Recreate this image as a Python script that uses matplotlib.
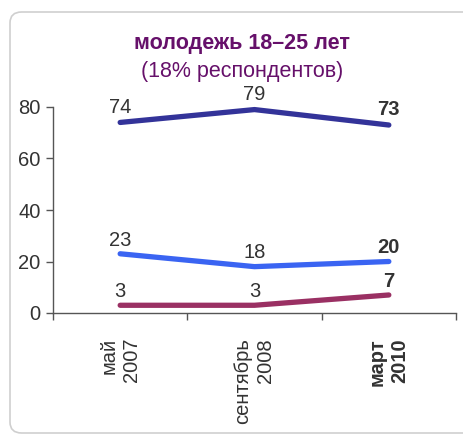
import matplotlib
matplotlib.use("Agg")
import matplotlib.pyplot as plt
from matplotlib.patches import FancyBboxPatch

plt.rcParams['font.family'] = ['Liberation Sans', 'DejaVu Sans']

categories = ["май\n2007", "сентябрь\n2008", "март\n2010"]
series_dark = [74, 79, 73]
series_blue = [23, 18, 20]
series_maroon = [3, 3, 7]
yticks = [0, 20, 40, 60, 80]
title1 = "молодежь 18–25 лет"
title2 = "(18% респондентов)"

colors = {"dark": "#333399", "blue": "#3a64f2", "maroon": "#9a3063"}
text_col = "#333333"

W, H = 463, 436
fig = plt.figure(figsize=(W / 100, H / 100), dpi=100)

# rounded frame
box = FancyBboxPatch((10 / W, 1 - 433 / H), 470 / W, (433 - 12) / H,
                     boxstyle="round,pad=0,rounding_size=0.025",
                     transform=fig.transFigure, facecolor="white",
                     edgecolor="#cfcfcf", linewidth=1.2, zorder=-10)
fig.add_artist(box)

ax = fig.add_axes([53 / W, 1 - 313 / H, (456 - 53) / W, (313 - 107) / H], zorder=5)
ax.set_facecolor("none")
x = list(range(len(categories)))

ax.plot(x, series_dark, color=colors["dark"], lw=3.8, solid_capstyle="round", clip_on=False)
ax.plot(x, series_blue, color=colors["blue"], lw=3.8, solid_capstyle="round", clip_on=False)
ax.plot(x, series_maroon, color=colors["maroon"], lw=3.8, solid_capstyle="round", clip_on=False)

def label(series, offsets):
    for i, v in enumerate(series):
        bold = (i == len(series) - 1)
        ax.annotate(str(v), (x[i], v), xytext=(0, offsets[i]), textcoords="offset points",
                    ha="center", va="bottom", fontsize=14.5, color=text_col,
                    fontweight="bold" if bold else "normal", annotation_clip=False)

label(series_dark, [4, 4, 4])
label(series_blue, [3, 3, 3])
label(series_maroon, [3, 3, 3])

ax.set_xlim(-0.5, len(categories) - 0.5)
ax.set_ylim(0, 80)
ax.set_yticks(yticks)
ax.set_yticklabels([str(t) for t in yticks], fontsize=14.5, color=text_col)
ax.tick_params(axis="y", length=5, width=1, color="#555555", pad=4)

ax.set_xticks([i - 0.5 for i in range(len(categories) + 1)])
ax.set_xticklabels([])
ax.tick_params(axis="x", which="major", length=5, width=1, color="#555555", direction="out")
ax.set_xticks(x, minor=True)
ax.set_xticklabels(categories, minor=True, rotation=90, fontsize=14.5, color=text_col,
                   va="top", ha="center", multialignment="right", linespacing=1.25)
ax.tick_params(axis="x", which="minor", length=0, pad=18)
for i, t in enumerate(ax.get_xticklabels(minor=True)):
    if i == len(categories) - 1:
        t.set_fontweight("bold")

for s in ["top", "right"]:
    ax.spines[s].set_visible(False)
for s in ["left", "bottom"]:
    ax.spines[s].set_color("#555555")
    ax.spines[s].set_linewidth(1)

fig.text(242 / W, 1 - 43 / H, title1, ha="center", va="center", fontsize=15.5,
         fontweight="bold", color="#66106a")
fig.text(242 / W, 1 - 71 / H, title2, ha="center", va="center", fontsize=15.5,
         color="#66106a")

fig.savefig("out.png", dpi=100)
